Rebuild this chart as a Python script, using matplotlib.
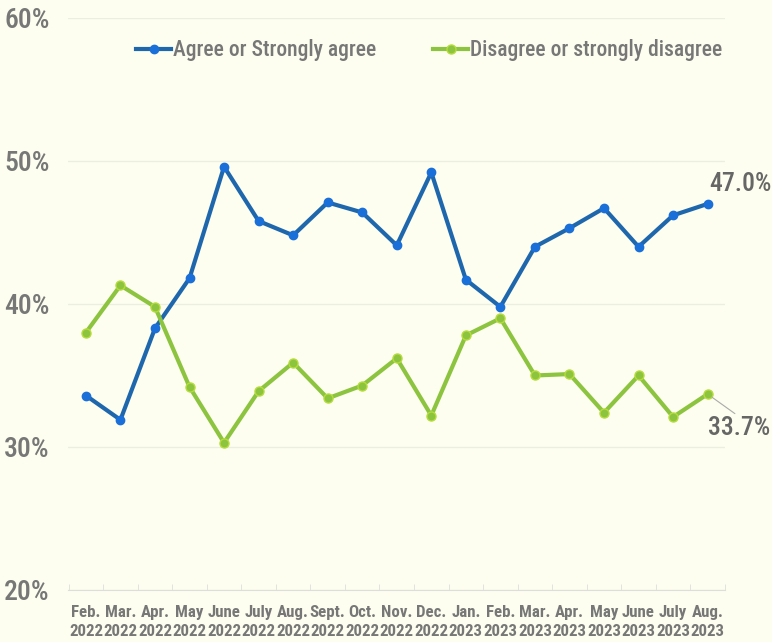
import matplotlib
matplotlib.use("Agg")
import matplotlib.pyplot as plt
from matplotlib import font_manager as fm

months = ["Feb.", "Mar.", "Apr.", "May", "June", "July", "Aug.", "Sept.", "Oct.", "Nov.",
          "Dec.", "Jan.", "Feb.", "Mar.", "Apr.", "May", "June", "July", "Aug."]
years = ["2022"] * 11 + ["2023"] * 8
agree = [33.6, 31.9, 38.3, 41.8, 49.6, 45.8, 44.8, 47.1, 46.4, 44.1,
         49.2, 41.7, 39.8, 44.0, 45.3, 46.7, 44.0, 46.2, 47.0]
disagree = [38.0, 41.3, 39.8, 34.2, 30.3, 33.9, 35.9, 33.4, 34.3, 36.2,
            32.2, 37.8, 39.0, 35.0, 35.1, 32.4, 35.0, 32.1, 33.7]
yticks = [20, 30, 40, 50, 60]

names = {f.name for f in fm.fontManager.ttflist}
fam = "DejaVu Sans"
for cand in ["Roboto Condensed", "Archivo Narrow", "IBM Plex Sans Condensed",
             "Barlow Semi Condensed", "Open Sans Condensed"]:
    if cand in names:
        fam = cand
        break
plt.rcParams['font.family'] = [fam, 'DejaVu Sans']

bg = "#fdfeef"
gray = "#777777"
blue_line = "#1f67ad"
blue_mk = "#1a6fd8"
green = "#8cc43f"

fig = plt.figure(figsize=(7.72, 6.42), dpi=100, facecolor=bg)
ax = fig.add_axes([0.088, 0.081, 0.851, 0.891], facecolor=bg)

x = list(range(len(months)))
ax.plot(x, agree, color=blue_line, lw=3, marker="o", ms=6, mfc=blue_mk, mec=blue_mk,
        label="Agree or Strongly agree", zorder=3)
ax.plot(x, disagree, color=green, lw=3, marker="o", ms=6.5, mfc=green, mec="#b5dc3a",
        label="Disagree or strongly disagree", zorder=3)

ax.set_xlim(-0.52, 18.5)
ax.set_ylim(20, 60)
ax.set_yticks(yticks)
ax.set_yticklabels([f"{v}%" for v in yticks], fontsize=20, color=gray, fontweight="medium")
ax.grid(axis="y", color="#ecefe0", lw=1)
ax.set_xticks(x)
ax.set_xticklabels([f"{m}\n{y}" for m, y in zip(months, years)], fontsize=12.2,
                   color=gray, fontweight="bold", linespacing=1.35)
ax.set_xticks([i - 0.5 for i in range(len(months) + 1)], minor=True)
ax.tick_params(axis="x", which="major", length=0, pad=11)
ax.tick_params(axis="x", which="minor", length=4, color="#dddddd", direction="in")
ax.tick_params(axis="y", length=0, pad=13)
for s in ["top", "right", "left"]:
    ax.spines[s].set_visible(False)
ax.spines["bottom"].set_color("#dddddd")

leg = ax.legend(loc="upper center", bbox_to_anchor=(0.55, 0.997), ncol=2, frameon=False,
                handlelength=1.6, handletextpad=0.1, columnspacing=2.65,
                labelcolor=gray, prop={"weight": "medium", "size": 15.5})

ax.annotate(f"{agree[-1]:.1f}%", xy=(18, agree[-1]), xytext=(18.05, agree[-1] + 1.4),
            fontsize=18.5, color="#666666", ha="left", va="center", fontweight="medium")
ax.annotate(f"{disagree[-1]:.1f}%", xy=(18, disagree[-1]), xytext=(18.0, disagree[-1] - 2.4),
            fontsize=18.5, color="#666666", ha="left", va="center", fontweight="medium",
            arrowprops=dict(arrowstyle="-", color="#aaaaaa", lw=0.8,
                            shrinkA=0, shrinkB=4, relpos=(0.5, 1.0)))

fig.savefig("out.png", dpi=100, facecolor=bg)
